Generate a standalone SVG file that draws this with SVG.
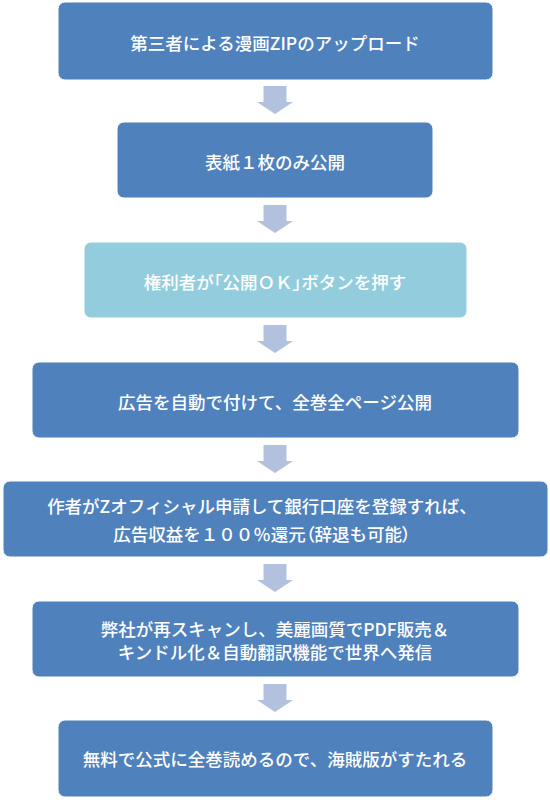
<svg xmlns="http://www.w3.org/2000/svg" width="550" height="800" viewBox="0 0 550 800">
<defs>
<style>
.box{fill:#4F81BD;stroke:#ffffff;stroke-width:1}
.light{fill:#93CDDD;stroke:#ffffff;stroke-width:1}
.arr{fill:#B2C1DE}
text{font-family:"Noto Sans CJK JP","Noto Sans",sans-serif;font-size:17.5px;fill:#ffffff;text-anchor:middle;dominant-baseline:central;font-weight:500}
.p{font-feature-settings:"palt"}
</style>
<path id="dn" d="M-11.5,0 H11.5 V16 H18 L0,28 L-18,16 H-11.5 Z"/>
</defs>
<rect width="550" height="800" fill="#ffffff"/>
<g id="connectors" class="arr">
<use href="#dn" x="275" y="86"/>
<use href="#dn" x="275" y="205"/>
<use href="#dn" x="275" y="325"/>
<use href="#dn" x="275" y="445"/>
<use href="#dn" x="275" y="564"/>
<use href="#dn" x="275" y="684"/>
</g>
<g id="n1"><rect class="box" x="58" y="2" width="435" height="78" rx="7"/><text x="275" y="42">第三者による漫画ZIPのアップロード</text></g>
<g id="n2"><rect class="box" x="117" y="122" width="316" height="76" rx="7"/><text x="275" y="161">表紙１枚のみ公開</text></g>
<g id="n3"><rect class="light" x="84" y="242" width="383" height="76" rx="7"/><text x="275" y="281">権利者が<tspan class="p">「</tspan>公開ＯＫ<tspan class="p">」</tspan>ボタンを押す</text></g>
<g id="n4"><rect class="box" x="32" y="362" width="487" height="76" rx="7"/><text x="275" y="401">広告を自動で付けて、全巻全ページ公開</text></g>
<g id="n5"><rect class="box" x="3" y="481" width="545" height="76" rx="7"/><text x="262" y="505">作者がZオフィシャル申請して銀行口座を登録すれば、</text><text x="262" y="533">広告収益を１００％還元<tspan class="p">（</tspan>辞退も可能<tspan class="p">）</tspan></text></g>
<g id="n6"><rect class="box" x="32" y="601" width="487" height="76" rx="7"/><text x="275" y="628">弊社が再スキャンし、美麗画質でPDF販売＆</text><text x="275" y="651">キンドル化＆自動翻訳機能で世界へ発信</text></g>
<g id="n7"><rect class="box" x="58" y="720" width="435" height="77" rx="7"/><text x="275" y="758">無料で公式に全巻読めるので、海賊版がすたれる</text></g>
</svg>
